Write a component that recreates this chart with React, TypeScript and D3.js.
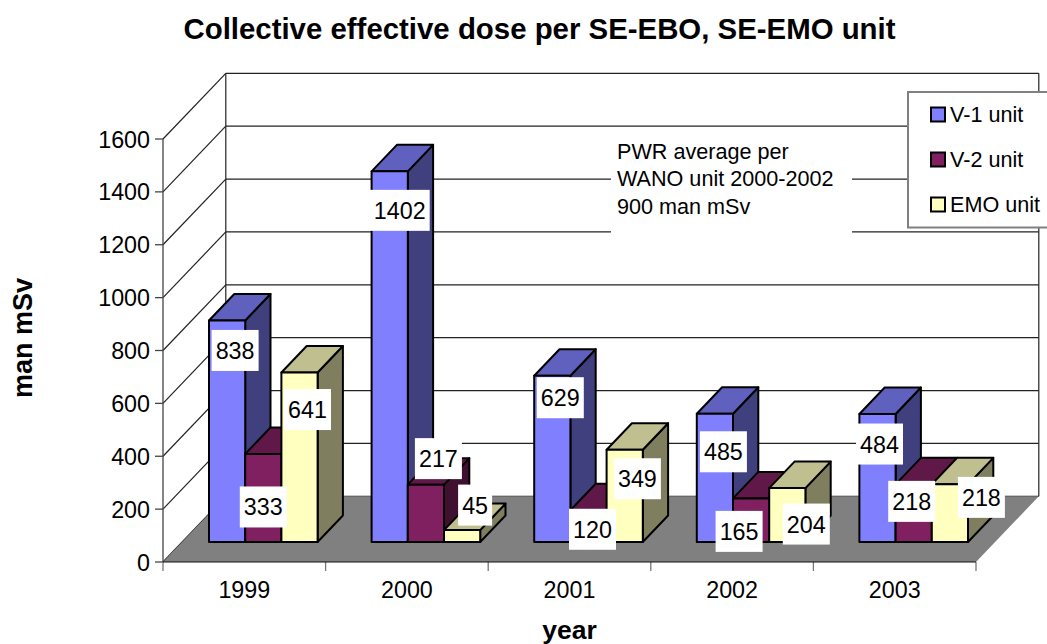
import React from "react";
import * as d3 from "d3";

const categories = ["1999", "2000", "2001", "2002", "2003"];
const seriesNames = ["V-1 unit", "V-2 unit", "EMO unit"];
const v1Values = [838, 1402, 629, 485, 484];
const v2Values = [333, 217, 120, 165, 218];
const emoValues = [641, 45, 349, 204, 218];
const yTicks = [0, 200, 400, 600, 800, 1000, 1200, 1400, 1600];
const noteLines = ["PWR average per", "WANO unit 2000-2002", "900 man mSv"];
const titleText = "Collective effective dose per SE-EBO, SE-EMO unit";

const seriesValues = [v1Values, v2Values, emoValues];
const faceColors = [
  { front: "#8080ff", top: "#6060bf", side: "#40407f" },
  { front: "#802060", top: "#601848", side: "#401030" },
  { front: "#ffffc0", top: "#bfbf90", side: "#7f7f60" },
];
// label centre relative to the bar's front-top centre, per series and year
const labelShift = [
  [[8, 30], [10, 39], [8, 22], [8.5, 38], [2, 30]],
  [[0, 53], [12.5, -26], [4, 19], [-12, 33], [-2, 17]],
  [[8, 37], [13, -25], [12.7, 29], [19, 36], [31.5, 13]],
];
const FONT = "'Liberation Sans', Arial, sans-serif";
const W = 1047;
const H = 644;
const plot = { left: 163, right: 976, bottom: 562, top: 139 };
const wallDepth = { dx: 62.8, dy: -65.7 };
const floorInset = { dx: 19, dy: -20 };
const barDepth = { dx: 25.3, dy: -26.5 };
const LABEL_H = 41;

const x = d3.scaleBand<string>().domain(categories).range([plot.left, plot.right]);
const y = d3.scaleLinear().domain([0, 1600]).range([plot.bottom, plot.top]);
const xInner = d3
  .scaleBand<string>()
  .domain(seriesNames)
  .range([27, x.bandwidth() - 27]);
const h = (v: number) => y(0) - y(v);
const pts = (p: [number, number][]) => p.map((q) => q.join(",")).join(" ");

function Bar({ cat, si, value }: { cat: string; si: number; value: number }) {
  const bw = xInner.bandwidth();
  const x0 = x(cat)! + floorInset.dx + xInner(seriesNames[si])!;
  const yb = y(0) + floorInset.dy;
  const yt = yb - h(value);
  const x1 = x0 + bw;
  const { dx, dy } = barDepth;
  const c = faceColors[si];
  const common = { stroke: "#000", strokeWidth: 2, strokeLinejoin: "round" as const };
  return (
    <g>
      <polygon {...common} fill={c.side} points={pts([[x1, yt], [x1 + dx, yt + dy], [x1 + dx, yb + dy], [x1, yb]])} />
      <polygon {...common} fill={c.top} points={pts([[x0, yt], [x0 + dx, yt + dy], [x1 + dx, yt + dy], [x1, yt]])} />
      <rect {...common} fill={c.front} x={x0} y={yt} width={bw} height={h(value)} />
    </g>
  );
}

function Label({ cat, si, ci, value }: { cat: string; si: number; ci: number; value: number }) {
  const bw = xInner.bandwidth();
  const cx = x(cat)! + floorInset.dx + xInner(seriesNames[si])! + bw / 2 + labelShift[si][ci][0];
  const cy = y(0) + floorInset.dy - h(value) + labelShift[si][ci][1];
  const w = 8 + String(value).length * 13;
  return (
    <g>
      <rect x={cx - w / 2} y={cy - LABEL_H / 2} width={w} height={LABEL_H} fill="#fff" />
      <text x={cx} y={cy + 8.5} textAnchor="middle" fontSize={23.3} fontFamily={FONT} fill="#000">
        {value}
      </text>
    </g>
  );
}

export default function App() {
  const { dx, dy } = wallDepth;
  const backLeft = plot.left + dx;
  const backRight = plot.right + dx;
  return (
    <svg width={W} height={H} style={{ position: "absolute", left: 0, top: 0, background: "#fff" }}>
      {/* walls */}
      <g stroke="#222" strokeWidth={1.2} fill="none">
        {yTicks.map((t) => (
          <g key={t}>
            <line x1={plot.left} y1={y(t)} x2={backLeft} y2={y(t) + dy} />
            <line x1={backLeft} y1={y(t) + dy} x2={backRight} y2={y(t) + dy} />
          </g>
        ))}
        <line x1={backLeft} y1={y(1600) + dy} x2={backLeft} y2={y(0) + dy} />
        <line x1={backRight} y1={y(1600) + dy} x2={backRight} y2={y(0) + dy} />
      </g>
      {/* floor */}
      <polygon
        fill="#808080"
        points={pts([
          [plot.left, y(0)],
          [plot.right, y(0)],
          [backRight, y(0) + dy],
          [backLeft, y(0) + dy],
        ])}
      />
      {/* axes */}
      <g stroke="#444" strokeWidth={1.3}>
        <line x1={plot.left} y1={y(1600)} x2={plot.left} y2={y(0)} />
        {yTicks.map((t) => (
          <line key={t} x1={plot.left - 8} y1={y(t)} x2={plot.left} y2={y(t)} />
        ))}
        {[...categories.map((c) => x(c)!), plot.right].map((v) => (
          <line key={v} x1={v} y1={y(0)} x2={v} y2={y(0) + 9} stroke="#777" />
        ))}
      </g>
      <line x1={plot.left} y1={y(0)} x2={plot.right} y2={y(0)} stroke="#111" strokeWidth={1.2} />
      {/* bars */}
      {categories.map((c, ci) => (
        <g key={c}>
          {seriesNames.map((s, si) => (
            <Bar key={s} cat={c} si={si} value={seriesValues[si][ci]} />
          ))}
        </g>
      ))}
      {/* note */}
      <rect x={611} y={133} width={241} height={100} fill="#fff" />
      <g fontFamily={FONT} fontSize={21.6} fill="#000">
        {noteLines.map((l, i) => (
          <text key={l} x={617} y={159 + i * 27.4}>
            {l}
          </text>
        ))}
      </g>
      {/* data labels */}
      {categories.map((c, ci) =>
        seriesNames.map((s, si) => (
          <Label key={c + s} cat={c} si={si} ci={ci} value={seriesValues[si][ci]} />
        ))
      )}
      {/* tick labels */}
      <g fontFamily={FONT} fontSize={23.3} fill="#000">
        {yTicks.map((t) => (
          <text key={t} x={150} y={y(t) + 8.5} textAnchor="end">
            {t}
          </text>
        ))}
        {categories.map((c) => (
          <text key={c} x={x(c)! + x.bandwidth() / 2} y={598} textAnchor="middle">
            {c}
          </text>
        ))}
      </g>
      {/* legend */}
      <rect x={908} y={92} width={150} height={135.5} fill="#fff" stroke="#808080" strokeWidth={2} />
      {seriesNames.map((s, i) => (
        <g key={s}>
          <rect
            x={931}
            y={107.5 + i * 45}
            width={14}
            height={14}
            fill={faceColors[i].front}
            stroke="#000"
            strokeWidth={2}
          />
          <text x={950} y={122 + i * 45} fontFamily={FONT} fontSize={21.6} fill="#000">
            {s}
          </text>
        </g>
      ))}
      {/* titles */}
      <text x={539.5} y={39} textAnchor="middle" fontFamily={FONT} fontSize={29.4} fontWeight="bold">
        {titleText}
      </text>
      <text
        transform="translate(32,338) rotate(-90)"
        textAnchor="middle"
        fontFamily={FONT}
        fontSize={27}
        fontWeight="bold"
      >
        man mSv
      </text>
      <text x={569.5} y={639} textAnchor="middle" fontFamily={FONT} fontSize={26.5} fontWeight="bold">
        year
      </text>
    </svg>
  );
}
